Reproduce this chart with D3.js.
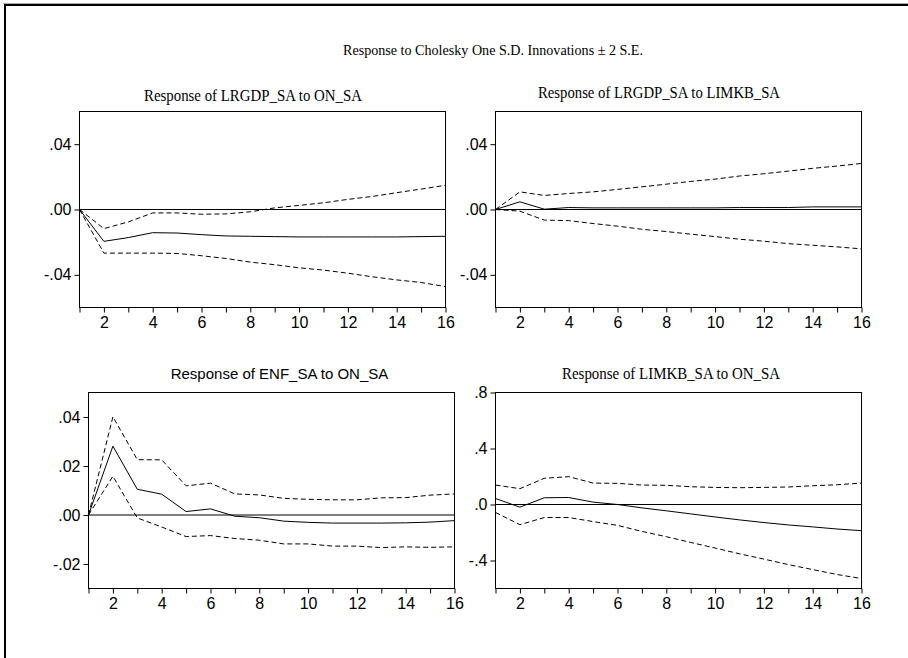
<!DOCTYPE html>
<meta charset="utf-8">
<style>
body { margin: 0; background: #fff; }
.tick text { font-family: "Liberation Sans", Arial; font-size: 16px; fill: #000; }
.tick line { stroke: #000; }
.serif { font-family: "Liberation Serif", "Times New Roman"; fill: #000; }
.sans { font-family: "Liberation Sans", Arial; fill: #000; }
</style>
<body>
<svg width="908" height="658"></svg>
<script src="https://d3js.org/d3.v7.min.js"></script>
<script>

var periods = d3.range(1, 17);

// Response of LRGDP_SA to ON_SA
var gdpOnResp  = [0, -0.0195, -0.0172, -0.0142, -0.0144, -0.0154, -0.0162, -0.0164, -0.0166, -0.0168, -0.0168, -0.0168, -0.0168, -0.0168, -0.0166, -0.0164];
var gdpOnUpper = [0, -0.0117, -0.0076, -0.0021, -0.0021, -0.0029, -0.0027, -0.0014, 0.0010, 0.0025, 0.0041, 0.0062, 0.0080, 0.0103, 0.0125, 0.0148];
var gdpOnLower = [0, -0.0267, -0.0267, -0.0267, -0.0269, -0.0283, -0.0300, -0.0322, -0.0338, -0.0357, -0.0371, -0.0390, -0.0412, -0.0431, -0.0447, -0.0472];

// Response of LRGDP_SA to LIMKB_SA
var gdpImResp  = [0, 0.0047, 0.0002, 0.0012, 0.0010, 0.0010, 0.0010, 0.0010, 0.0010, 0.0010, 0.0012, 0.0012, 0.0012, 0.0016, 0.0016, 0.0016];
var gdpImUpper = [0, 0.0108, 0.0086, 0.0098, 0.0108, 0.0123, 0.0139, 0.0155, 0.0172, 0.0186, 0.0205, 0.0219, 0.0235, 0.0252, 0.0266, 0.0282];
var gdpImLower = [0, -0.0010, -0.0065, -0.0068, -0.0086, -0.0102, -0.0121, -0.0135, -0.0151, -0.0166, -0.0182, -0.0194, -0.0209, -0.0219, -0.0229, -0.0241];

// Response of ENF_SA to ON_SA
var enfOnResp  = [0, 0.0281, 0.0105, 0.0085, 0.0014, 0.0025, -0.0005, -0.0011, -0.0025, -0.0030, -0.0033, -0.0033, -0.0033, -0.0032, -0.0029, -0.0023];
var enfOnUpper = [0, 0.0401, 0.0226, 0.0225, 0.0119, 0.0130, 0.0086, 0.0082, 0.0068, 0.0064, 0.0062, 0.0062, 0.0070, 0.0071, 0.0081, 0.0086];
var enfOnLower = [0, 0.0158, -0.0012, -0.0049, -0.0088, -0.0084, -0.0096, -0.0103, -0.0118, -0.0118, -0.0127, -0.0127, -0.0133, -0.0130, -0.0132, -0.0130];

// Response of LIMKB_SA to ON_SA
var imOnResp  = [0.043, -0.019, 0.048, 0.050, 0.017, 0.000, -0.024, -0.045, -0.067, -0.089, -0.110, -0.129, -0.146, -0.160, -0.175, -0.187];
var imOnUpper = [0.139, 0.113, 0.187, 0.199, 0.153, 0.151, 0.139, 0.137, 0.127, 0.122, 0.120, 0.122, 0.125, 0.134, 0.141, 0.153];
var imOnLower = [-0.057, -0.144, -0.093, -0.093, -0.122, -0.149, -0.192, -0.230, -0.271, -0.311, -0.352, -0.390, -0.429, -0.465, -0.500, -0.529];

var gdpTicks = [0.04, 0, -0.04], gdpTickLabels = [".04", ".00", "-.04"];
var enfTicks = [0.04, 0.02, 0, -0.02], enfTickLabels = [".04", ".02", ".00", "-.02"];
var imTicks = [0.8, 0.4, 0, -0.4], imTickLabels = [".8", ".4", ".0", "-.4"];

var panels = [
  {title: "Response of LRGDP_SA to ON_SA", serif: true, tx: 253, ty: 100.5, tw: 218,
   box: [79.5, 111.5, 445.5, 307.5], dom: [-0.06, 0.06], ticks: gdpTicks, labels: gdpTickLabels,
   resp: gdpOnResp, upper: gdpOnUpper, lower: gdpOnLower},
  {title: "Response of LRGDP_SA to LIMKB_SA", serif: true, tx: 659, ty: 97.5, tw: 242,
   box: [495.5, 111.5, 861.5, 307.5], dom: [-0.06, 0.06], ticks: gdpTicks, labels: gdpTickLabels,
   resp: gdpImResp, upper: gdpImUpper, lower: gdpImLower},
  {title: "Response of ENF_SA to ON_SA", serif: false, tx: 279.5, ty: 379,
   box: [88.5, 392.5, 454.5, 588.5], dom: [-0.03, 0.05], ticks: enfTicks, labels: enfTickLabels,
   resp: enfOnResp, upper: enfOnUpper, lower: enfOnLower},
  {title: "Response of LIMKB_SA to ON_SA", serif: true, tx: 671, ty: 378.5, tw: 218,
   box: [495.5, 392.5, 861.5, 588.5], dom: [-0.6, 0.8], ticks: imTicks, labels: imTickLabels,
   resp: imOnResp, upper: imOnUpper, lower: imOnLower}
];

var svg = d3.select("svg");

// outer frame
svg.append("line").attr("x1", 3).attr("x2", 908).attr("y1", 3.5).attr("y2", 3.5)
  .attr("stroke", "#aaa").attr("stroke-width", 1);
svg.append("path").attr("d", "M5,658V5H908").attr("fill", "none")
  .attr("stroke", "#000").attr("stroke-width", 2);

svg.append("text").attr("class", "serif")
  .attr("x", 493).attr("y", 55).attr("text-anchor", "middle")
  .attr("font-size", 15).attr("textLength", 300).attr("lengthAdjust", "spacingAndGlyphs")
  .text("Response to Cholesky One S.D. Innovations \u00b1 2 S.E.");

panels.forEach(function (p) {
  var b = p.box;
  var x = d3.scaleLinear().domain([1, 16]).range([b[0], b[2]]);
  var y = d3.scaleLinear().domain(p.dom).range([b[3], b[1]]);
  var g = svg.append("g");

  var t = g.append("text")
    .attr("class", p.serif ? "serif" : "sans")
    .attr("x", p.tx).attr("y", p.ty).attr("text-anchor", "middle")
    .attr("font-size", p.serif ? 16 : 15)
    .text(p.title);
  if (p.tw) t.attr("textLength", p.tw).attr("lengthAdjust", "spacingAndGlyphs");

  g.append("g").attr("transform", "translate(0," + b[3] + ")")
    .call(d3.axisBottom(x).tickValues(periods).tickSize(5).tickSizeOuter(0).tickPadding(4)
      .tickFormat(function (d) { return d % 2 === 0 ? d : ""; }))
    .call(function (a) { a.select(".domain").remove(); });

  g.append("g").attr("transform", "translate(" + b[0] + ",0)")
    .call(d3.axisLeft(y).tickValues(p.ticks).tickSize(5).tickSizeOuter(0).tickPadding(3)
      .tickFormat(function (d, i) { return p.labels[i]; }))
    .call(function (a) { a.select(".domain").remove(); });

  g.append("rect").attr("x", b[0]).attr("y", b[1])
    .attr("width", b[2] - b[0]).attr("height", b[3] - b[1])
    .attr("fill", "none").attr("stroke", "#000");

  g.append("line").attr("x1", b[0]).attr("x2", b[2])
    .attr("y1", y(0)).attr("y2", y(0)).attr("stroke", "#000");

  var line = d3.line().x(function (d, i) { return x(periods[i]); }).y(function (d) { return y(d); });

  [p.upper, p.lower].forEach(function (s) {
    g.append("path").attr("d", line(s)).attr("fill", "none")
      .attr("stroke", "#000").attr("stroke-dasharray", "5,3");
  });
  g.append("path").attr("d", line(p.resp)).attr("fill", "none").attr("stroke", "#000");
});

</script>
</body>
